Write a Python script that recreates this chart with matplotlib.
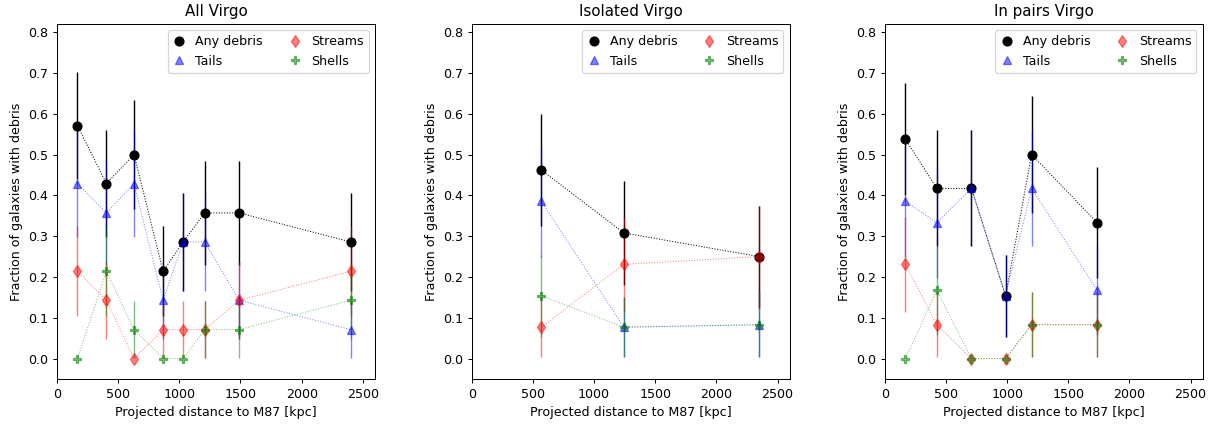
import matplotlib
matplotlib.use("Agg")
import matplotlib.pyplot as plt
from matplotlib.lines import Line2D

# ---- Data ----
panel_titles = ["All Virgo", "Isolated Virgo", "In pairs Virgo"]

# All Virgo
all_x = [167, 404, 630, 867, 1031, 1208, 1489, 2401]
all_any = [0.571, 0.429, 0.500, 0.214, 0.286, 0.357, 0.357, 0.286]
all_any_err = [0.132, 0.132, 0.134, 0.110, 0.121, 0.128, 0.128, 0.121]
all_tails = [0.429, 0.357, 0.429, 0.143, 0.286, 0.286, 0.143, 0.071]
all_tails_err = [0.132, 0.128, 0.132, 0.094, 0.121, 0.121, 0.094, 0.069]
all_streams = [0.214, 0.143, 0.000, 0.071, 0.071, 0.071, 0.143, 0.214]
all_streams_err = [0.110, 0.094, 0.000, 0.069, 0.069, 0.069, 0.094, 0.110]
all_shells = [0.000, 0.214, 0.071, 0.000, 0.000, 0.071, 0.071, 0.143]
all_shells_err = [0.000, 0.110, 0.069, 0.000, 0.000, 0.069, 0.069, 0.094]

# Isolated Virgo
iso_x = [570, 1243, 2349]
iso_any = [0.462, 0.308, 0.250]
iso_any_err = [0.138, 0.128, 0.125]
iso_tails = [0.385, 0.077, 0.083]
iso_tails_err = [0.135, 0.074, 0.080]
iso_streams = [0.077, 0.231, 0.250]
iso_streams_err = [0.074, 0.117, 0.125]
iso_shells = [0.154, 0.077, 0.083]
iso_shells_err = [0.100, 0.074, 0.080]

# In pairs Virgo
pair_x = [169, 426, 709, 988, 1201, 1737]
pair_any = [0.538, 0.417, 0.417, 0.154, 0.500, 0.333]
pair_any_err = [0.138, 0.142, 0.142, 0.100, 0.144, 0.136]
pair_tails = [0.385, 0.333, 0.417, 0.154, 0.417, 0.167]
pair_tails_err = [0.135, 0.136, 0.142, 0.100, 0.142, 0.108]
pair_streams = [0.231, 0.083, 0.000, 0.000, 0.083, 0.083]
pair_streams_err = [0.117, 0.080, 0.000, 0.000, 0.080, 0.080]
pair_shells = [0.000, 0.167, 0.000, 0.000, 0.083, 0.083]
pair_shells_err = [0.000, 0.108, 0.000, 0.000, 0.080, 0.080]

panels = [
    (all_x, [(all_any, all_any_err), (all_tails, all_tails_err),
             (all_streams, all_streams_err), (all_shells, all_shells_err)]),
    (iso_x, [(iso_any, iso_any_err), (iso_tails, iso_tails_err),
             (iso_streams, iso_streams_err), (iso_shells, iso_shells_err)]),
    (pair_x, [(pair_any, pair_any_err), (pair_tails, pair_tails_err),
              (pair_streams, pair_streams_err), (pair_shells, pair_shells_err)]),
]

series_labels = ["Any debris", "Tails", "Streams", "Shells"]
series_styles = [
    dict(color="black", marker="o", alpha=1.0),
    dict(color="blue", marker="^", alpha=0.5),
    dict(color="red", marker="d", alpha=0.5),
    dict(color="green", marker="P", alpha=0.5),
]

DPI = 91
MS = 7
fig = plt.figure(figsize=(1218 / DPI, 426 / DPI), dpi=DPI)
lefts = [0.0468, 0.3873, 0.7264]
width = 0.2611
bottom, top = 0.1103, 0.9437

for i, (x, series) in enumerate(panels):
    ax = fig.add_axes([lefts[i], bottom, width, top - bottom])
    handles = []
    for (vals, errs), lab, st in zip(series, series_labels, series_styles):
        ax.errorbar(x, vals, yerr=errs, color=st["color"], marker=st["marker"],
                    alpha=st["alpha"], linestyle=":", linewidth=0.8,
                    elinewidth=1.1, markersize=MS, capsize=0)
        handles.append(Line2D([], [], color=st["color"], marker=st["marker"],
                              alpha=st["alpha"], linestyle="none",
                              markersize=MS, label=lab))
    ax.set_xlim(0, 2600)
    ax.set_ylim(-0.05, 0.82)
    ax.set_yticks([0.0, 0.1, 0.2, 0.3, 0.4, 0.5, 0.6, 0.7, 0.8])
    ax.set_xticks([0, 500, 1000, 1500, 2000, 2500])
    ax.set_title(panel_titles[i])
    ax.set_xlabel("Projected distance to M87 [kpc]")
    ax.set_ylabel("Fraction of galaxies with debris")
    ax.legend(handles=handles, loc="upper right", ncol=2, handlelength=1)

fig.savefig("out.png", dpi=DPI)
